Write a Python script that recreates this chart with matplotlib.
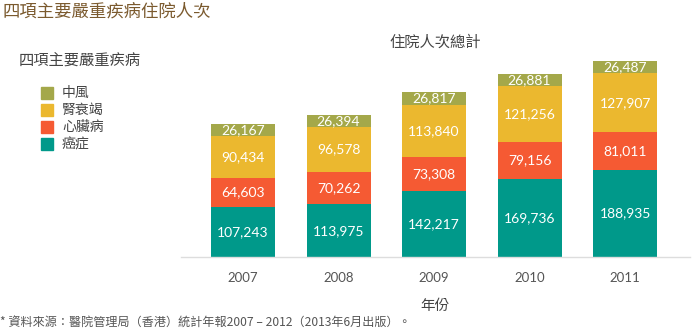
import numpy as np
import matplotlib
matplotlib.use("Agg")
import matplotlib.pyplot as plt
from matplotlib.patches import Rectangle

plt.rcParams['font.family'] = ['Noto Sans CJK TC', 'DejaVu Sans']

# data
years = ['2007', '2008', '2009', '2010', '2011']
cancer = [107243, 113975, 142217, 169736, 188935]
heart = [64603, 70262, 73308, 79156, 81011]
kidney = [90434, 96578, 113840, 121256, 127907]
stroke = [26167, 26394, 26817, 26881, 26487]

series_names = ['癌症', '心臟病', '腎衰竭', '中風']
series_colors = ['#00998a', '#f55a33', '#ebb82f', '#a4a84a']
series = [cancer, heart, kidney, stroke]

fig = plt.figure(figsize=(6.98, 3.32), dpi=100)
ax = fig.add_axes([181 / 698, 1 - 257 / 332, (690 - 181) / 698, (257 - 50) / 332])

x = np.arange(len(years))
bottom = np.zeros(len(years))
for vals, col in zip(series, series_colors):
    vals = np.array(vals)
    ax.bar(x, vals, width=0.67, bottom=bottom, color=col, edgecolor='none')
    for xi, b, v in zip(x, bottom, vals):
        ax.text(xi, b + v / 2, f'{v:,}', ha='center', va='center',
                color='white', fontsize=10, family=['Lato', 'DejaVu Sans'])
    bottom += vals

ax.set_xlim(-0.649, 4.68)
ax.set_ylim(0, 448000)
ax.set_xticks(x)
ax.set_xticklabels(years, fontsize=9.5, color='#555555', family=['Lato', 'DejaVu Sans'])
ax.tick_params(axis='x', length=0, pad=10.5)
ax.set_yticks([])
for s in ['top', 'right', 'left']:
    ax.spines[s].set_visible(False)
ax.spines['bottom'].set_color('#dddddd')
ax.spines['bottom'].set_linewidth(1)

# titles
fig.text(3 / 698, 1 - 12 / 332, '四項主要嚴重疾病住院人次', fontsize=12.5,
         color='#7b5a2e', ha='left', va='center')
fig.text(435 / 698, 1 - 42 / 332, '住院人次總計', fontsize=11,
         color='#444444', ha='center', va='center')
fig.text(19 / 698, 1 - 60 / 332, '四項主要嚴重疾病', fontsize=11,
         color='#444444', ha='left', va='center')
fig.text(435 / 698, 1 - 306 / 332, '年份', fontsize=10.5,
         color='#444444', ha='center', va='center')
fig.text(0, 1 - 323 / 332, '* 資料來源：醫院管理局（香港）統計年報2007 – 2012（2013年6月出版）。',
         fontsize=8.7, color='#555555', ha='left', va='center')

# legend
leg_y = [93, 110, 127, 144]
for name, col, yy in zip(series_names[::-1], series_colors[::-1], leg_y):
    fig.patches.append(Rectangle((41 / 698, 1 - (yy + 6) / 332), 12 / 698, 12 / 332,
                                 transform=fig.transFigure, color=col, figure=fig))
    fig.text(62 / 698, 1 - yy / 332, name, fontsize=10, color='#444444',
             ha='left', va='center')

fig.savefig('out.png', dpi=100)
